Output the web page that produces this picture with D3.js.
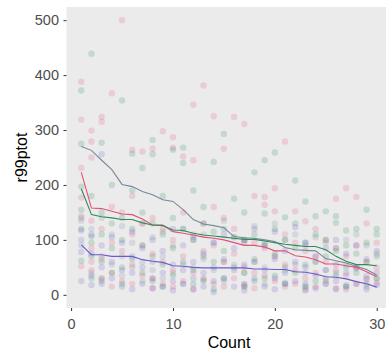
<!DOCTYPE html>
<html><head><meta charset="utf-8">
<script src="https://cdn.jsdelivr.net/npm/d3@7"></script>
<style>body{margin:0;background:#fff}svg{display:block}</style>
</head><body>
<svg id="c" width="386" height="350"></svg>
<script>
const counts = d3.range(1, 31);
const xTicks = [0, 10, 20, 30];
const yTicks = [0, 100, 200, 300, 400, 500];

const seriesNames = ["pink", "green", "purple", "slate"];
const lineColors = ["#E0507A", "#2E8B57", "#6A5ACD", "#778899"];

// line values per count (1..30)
const pinkLine = [223,158,157,152,147,146,138,127,127,115,112,109,105,103,100,95,90,90,87,80,80,71,69,64,56,56,53,50,42,33];
const greenLine = [193,146,142,140,137,137,131,127,126,118,117,112,109,107,105,103,101,101,98,95,92,90,88,88,82,70,61,55,55,53];
const purpleLine = [91,73,73,70,70,70,64,61,59,53,52,50,49,49,49,49,49,47,47,46,46,42,41,38,33,32,29,24,20,14];
const slateLine = [270,263,245,228,201,197,188,182,173,170,155,137,129,126,122,106,104,103,100,97,86,82,81,80,66,62,58,52,46,36];

// point values per count (1..30)
const pinkPts = [[388,319,231,177,52,140],[299,279,250,135,85,45,60],[324,315,120,70,30],[367,160,95,40,15],[500,150,80,25],
 [264,180,110,55,20],[261,130,90,35],[266,140,75,30,12],[298,120,60,20],[287,268,100,45,15],
 [252,150,70,25],[346,245,110,40,10],[381,130,80,30],[325,160,90,20],[266,140,60,15],
 [324,120,75,30],[311,100,50,18],[180,95,40,12],[178,164,85,35],[194,152,70,25],
 [279,110,55,15],[152,95,45,20],[134,80,30,10],[120,70,40,15],[100,60,25],
 [175,85,45,12],[194,70,35,10],[178,90,50,20],[130,60,28],[95,50,22]];
const greenPts = [[372,275,197,155,62,120],[439,180,106,95,70,30],[277,150,110,60,25],[200,130,85,40],[354,140,100,50,20],
 [257,190,120,65],[231,150,90,40],[282,256,130,70,25],[180,110,55,15],[264,140,85,35],
 [268,240,120,60],[190,100,45,20],[160,130,70,25],[242,115,60,10],[293,120,80,30],
 [175,105,50],[150,95,40,15],[223,110,65,25],[245,148,90,30],[259,120,75,35],
 [141,100,50,20],[208,130,85,40],[170,95,55,15],[143,110,60,25],[152,100,70,30],
 [143,131,80,35],[117,90,50,15],[120,75,40],[155,95,60,20],[120,110,70,30]];
const purplePts = [[117,100,78,25],[110,75,35,18],[256,90,50,20],[105,60,30],[95,45,15],
 [115,70,40,10],[85,50,20],[100,60,30,12],[80,40,15],[120,55,25,8],
 [90,45,20],[105,60,30,10],[75,40,15],[95,50,25,5],[110,65,30],
 [85,45,15],[100,55,20,8],[120,60,30],[90,45,15],[115,65,30,10],
 [80,40,20],[123,60,25],[95,50,20,8],[70,35,12],[85,45,20],
 [100,55,25,10],[75,40,15],[90,50,20],[65,30,10],[80,40,18]];
const slatePts = [[143,135,90],[120,40],[140,65,30],[110,55],[125,70,35],
 [95,50],[130,60,25],[105,45],[115,70,30],[90,40],
 [120,55,20],[100,50],[110,65,28],[95,45],[135,60,25],
 [105,55],[100,40,15],[125,60],[95,50,20],[130,70],
 [100,45,22],[110,55],[90,40,15],[105,60],[95,45,20],
 [85,40],[100,55,18],[110,48],[90,35,15],[75,30]];

const lines = [pinkLine, greenLine, purpleLine, slateLine];
const pts = [pinkPts, greenPts, purplePts, slatePts];

const svg = d3.select("#c");
const L = 66.5, R = 391.5, T = 7, B = 308;
const x = d3.scaleLinear().domain([-0.45, 31.45]).range([L, R]);
const y = d3.scaleLinear().domain([-24, 524]).range([B, T]);

svg.append("rect").attr("x", L).attr("y", T).attr("width", R - L).attr("height", B - T).attr("fill", "#EBEBEB");

const g = svg.append("g");
pts.forEach((s, si) => {
  const flat = [];
  s.forEach((vals, i) => vals.forEach(v => flat.push([counts[i], v])));
  g.selectAll(null).data(flat).enter().append("circle")
    .attr("cx", d => x(d[0])).attr("cy", d => y(d[1])).attr("r", 3.2)
    .attr("fill", lineColors[si]).attr("fill-opacity", 0.2);
});

const lineGen = d3.line().x((d, i) => x(counts[i])).y(d => y(d));
[3, 0, 1, 2].forEach(si => {
  svg.append("path").datum(lines[si]).attr("d", lineGen)
    .attr("fill", "none").attr("stroke", lineColors[si]).attr("stroke-width", 1.1);
});

const xAxis = svg.append("g").attr("transform", `translate(0,${B})`)
  .call(d3.axisBottom(x).tickValues(xTicks).tickSize(3).tickPadding(8));
const yAxis = svg.append("g").attr("transform", `translate(${L},0)`)
  .call(d3.axisLeft(y).tickValues(yTicks).tickSize(3).tickPadding(4.5));
[xAxis, yAxis].forEach(a => {
  a.select(".domain").remove();
  a.selectAll("line").attr("stroke", "#333333");
  a.selectAll("text").attr("fill", "#4D4D4D").style("font-family", "Liberation Sans, Arial, sans-serif").style("font-size", "14.5px");
});

svg.append("text").attr("x", (L + R) / 2).attr("y", 348).attr("text-anchor", "middle")
  .style("font-family", "Liberation Sans, Arial, sans-serif").style("font-size", "16px").attr("fill", "#000").text("Count");
svg.append("text").attr("transform", `translate(27,${(T + B) / 2}) rotate(-90)`).attr("text-anchor", "middle")
  .style("font-family", "Liberation Sans, Arial, sans-serif").style("font-size", "16px").attr("fill", "#000").text("r99ptot");
</script>
</body></html>
